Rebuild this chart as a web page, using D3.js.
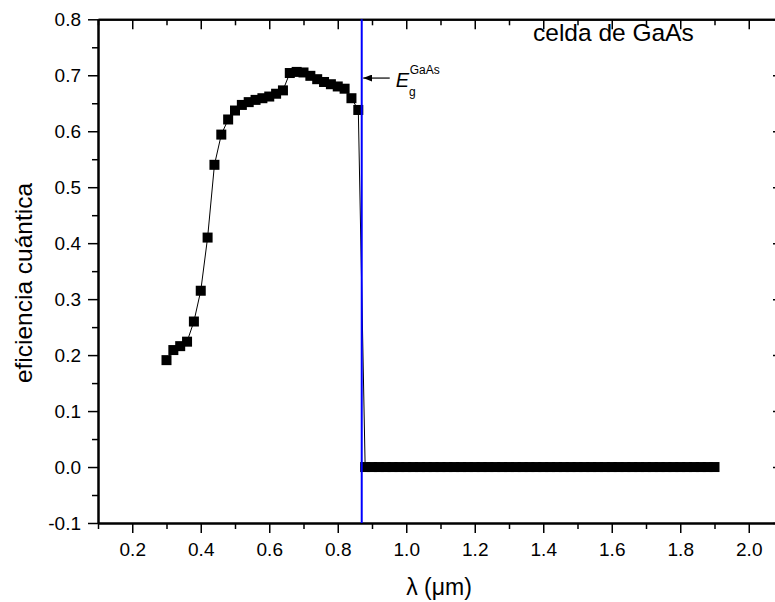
<!DOCTYPE html>
<html>
<head>
<meta charset="utf-8">
<script src="https://cdn.jsdelivr.net/npm/d3@7"></script>
<style>
  body { margin: 0; background: #fff; }
  svg { display: block; font-family: "Liberation Sans", Arial, sans-serif; }
</style>
</head>
<body>
<svg id="container"></svg>
<script>
const width = 775;
const height = 602;
const margin = {top: 19.3, right: -8, bottom: 79, left: 98};

// wavelength (um) and quantum efficiency
const lambda = [0.30, 0.32, 0.34, 0.36, 0.38, 0.40, 0.42, 0.44, 0.46, 0.48,
  0.50, 0.52, 0.54, 0.56, 0.58, 0.60, 0.62, 0.64, 0.66, 0.68,
  0.70, 0.72, 0.74, 0.76, 0.78, 0.80, 0.82, 0.84, 0.86,
  0.88, 0.90, 0.92, 0.94, 0.96, 0.98, 1.00, 1.02, 1.04, 1.06,
  1.08, 1.10, 1.12, 1.14, 1.16, 1.18, 1.20, 1.22, 1.24, 1.26,
  1.28, 1.30, 1.32, 1.34, 1.36, 1.38, 1.40, 1.42, 1.44, 1.46,
  1.48, 1.50, 1.52, 1.54, 1.56, 1.58, 1.60, 1.62, 1.64, 1.66,
  1.68, 1.70, 1.72, 1.74, 1.76, 1.78, 1.80, 1.82, 1.84, 1.86,
  1.88, 1.90];
const efficiency = [0.191, 0.209, 0.216, 0.224, 0.260, 0.315, 0.410, 0.540, 0.594, 0.621,
  0.637, 0.647, 0.652, 0.656, 0.659, 0.662, 0.667, 0.673, 0.704, 0.706,
  0.705, 0.699, 0.693, 0.688, 0.684, 0.680, 0.676, 0.659, 0.638,
  0, 0, 0, 0, 0, 0, 0, 0, 0, 0,
  0, 0, 0, 0, 0, 0, 0, 0, 0, 0,
  0, 0, 0, 0, 0, 0, 0, 0, 0, 0,
  0, 0, 0, 0, 0, 0, 0, 0, 0, 0,
  0, 0, 0, 0, 0, 0, 0, 0, 0, 0,
  0, 0];

const xTicks = [0.2, 0.4, 0.6, 0.8, 1.0, 1.2, 1.4, 1.6, 1.8, 2.0];
const yTicks = [-0.1, 0.0, 0.1, 0.2, 0.3, 0.4, 0.5, 0.6, 0.7, 0.8];
const gapLambda = 0.87;   // E_g of GaAs in um
const arrowAt = 0.695;

const data = lambda.map((d, i) => ({x: d, y: efficiency[i]}));

const x = d3.scaleLinear()
    .domain([0.1, 2.1])
    .range([margin.left, width - margin.right]);
const y = d3.scaleLinear()
    .domain([-0.1, 0.8])
    .range([height - margin.bottom, margin.top]);

const xMinor = xTicks.map(d => +(d - 0.1).toFixed(2)).concat([2.1]);
const yMinor = yTicks.slice(1).map(d => +(d - 0.05).toFixed(3));

const svg = d3.select("#container")
    .attr("width", width)
    .attr("height", height)
    .attr("viewBox", [0, 0, width, height]);

const f1 = d3.format(".1f");
const fmt = d => f1(d).replace("\u2212", "-");

function styleAxis(g, labels) {
  g.select(".domain").attr("stroke-width", 2);
  g.selectAll(".tick line").attr("stroke-width", 1.5);
  g.selectAll(".tick text")
      .attr("font-size", 19)
      .attr("fill", "#000")
      .attr("font-family", "'Liberation Sans', Arial, sans-serif");
  if (!labels) g.selectAll(".tick text").remove();
}

// bottom
svg.append("g")
    .attr("transform", `translate(0,${y.range()[0]})`)
    .call(d3.axisBottom(x).tickValues(xMinor).tickSize(6).tickSizeOuter(0).tickFormat(""))
    .call(g => styleAxis(g, false));
svg.append("g")
    .attr("transform", `translate(0,${y.range()[0]})`)
    .call(d3.axisBottom(x).tickValues(xTicks).tickSize(10).tickPadding(10).tickSizeOuter(0).tickFormat(fmt))
    .call(g => styleAxis(g, true));

// top
svg.append("g")
    .attr("transform", `translate(0,${y.range()[1]})`)
    .call(d3.axisTop(x).tickValues(xMinor).tickSize(-6).tickSizeOuter(0).tickFormat(""))
    .call(g => styleAxis(g, false));
svg.append("g")
    .attr("transform", `translate(0,${y.range()[1]})`)
    .call(d3.axisTop(x).tickValues(xTicks).tickSize(-10).tickSizeOuter(0).tickFormat(""))
    .call(g => styleAxis(g, false));

// left
svg.append("g")
    .attr("transform", `translate(${x.range()[0]},0)`)
    .call(d3.axisLeft(y).tickValues(yMinor).tickSize(6).tickSizeOuter(0).tickFormat(""))
    .call(g => styleAxis(g, false));
svg.append("g")
    .attr("transform", `translate(${x.range()[0]},0)`)
    .call(d3.axisLeft(y).tickValues(yTicks).tickSize(10).tickPadding(7).tickSizeOuter(0).tickFormat(fmt))
    .call(g => styleAxis(g, true));

// right
svg.append("g")
    .attr("transform", `translate(${x.range()[1]},0)`)
    .call(d3.axisRight(y).tickValues(yMinor).tickSize(-6).tickSizeOuter(0).tickFormat(""))
    .call(g => styleAxis(g, false));
svg.append("g")
    .attr("transform", `translate(${x.range()[1]},0)`)
    .call(d3.axisRight(y).tickValues(yTicks).tickSize(-10).tickSizeOuter(0).tickFormat(""))
    .call(g => styleAxis(g, false));

// series line
svg.append("path")
    .datum(data)
    .attr("fill", "none")
    .attr("stroke", "#000")
    .attr("stroke-width", 1)
    .attr("d", d3.line().x(d => x(d.x)).y(d => y(d.y)));

// square markers
const s = 10;
svg.append("g")
    .selectAll("rect")
    .data(data)
    .join("rect")
    .attr("x", d => x(d.x) - s / 2)
    .attr("y", d => y(d.y) - s / 2)
    .attr("width", s)
    .attr("height", s)
    .attr("fill", "#000");

// band gap line
svg.append("line")
    .attr("x1", x(gapLambda)).attr("x2", x(gapLambda))
    .attr("y1", y(0.8)).attr("y2", y(-0.1))
    .attr("stroke", "#0000ff")
    .attr("stroke-width", 2);

// arrow pointing at the gap line
svg.append("defs").append("marker")
    .attr("id", "head")
    .attr("viewBox", "0 0 10 8")
    .attr("refX", 10).attr("refY", 4)
    .attr("markerWidth", 10).attr("markerHeight", 7)
    .attr("markerUnits", "userSpaceOnUse")
    .attr("orient", "auto")
    .append("path")
    .attr("d", "M0,0L10,4L0,8Z")
    .attr("fill", "#000");

svg.append("line")
    .attr("x1", x(gapLambda) + 28).attr("x2", x(gapLambda) + 1.5)
    .attr("y1", y(arrowAt)).attr("y2", y(arrowAt))
    .attr("stroke", "#000")
    .attr("stroke-width", 1.2)
    .attr("marker-end", "url(#head)");

const eg = svg.append("text")
    .attr("x", x(gapLambda) + 34)
    .attr("y", y(arrowAt) + 9)
    .attr("font-size", 20);
eg.append("tspan").attr("font-style", "italic").text("E");
eg.append("tspan").attr("font-size", 12).attr("dx", 0).attr("dy", 8.5).text("g");
eg.append("tspan").attr("font-size", 12).attr("dx", -6).attr("dy", -22).text("GaAs");

// title in the corner
svg.append("text")
    .attr("x", 533)
    .attr("y", 41)
    .attr("font-size", 24.5)
    .text("celda de GaAs");

// axis titles
svg.append("text")
    .attr("x", 439)
    .attr("y", 595)
    .attr("text-anchor", "middle")
    .attr("font-size", 23)
    .text("λ (μm)");

svg.append("text")
    .attr("transform", "translate(32,283) rotate(-90)")
    .attr("text-anchor", "middle")
    .attr("font-size", 24.5)
    .text("eficiencia cuántica");
</script>
</body>
</html>
